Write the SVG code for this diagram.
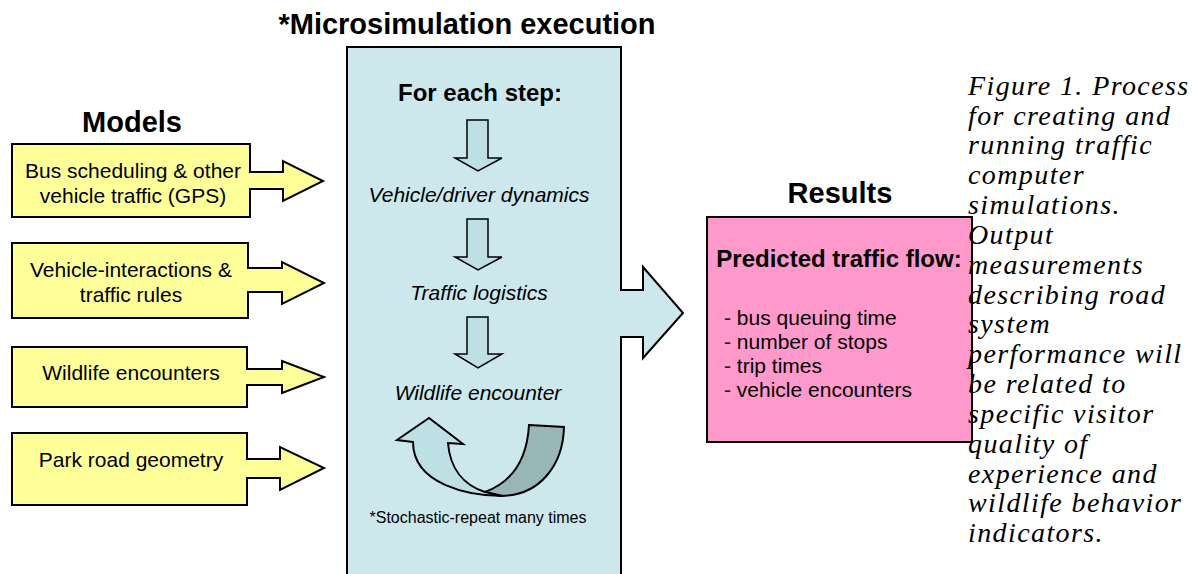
<svg xmlns="http://www.w3.org/2000/svg" width="1197" height="574" viewBox="0 0 1197 574">
<style>
.bg{fill:#ffffff}
.shape{stroke:#000;stroke-width:2;stroke-linejoin:miter}
.yel{fill:#ffff99}
.blue{fill:#cde8ec}
.pink{fill:#ff99cc}
.darr{fill:#bde0e4;stroke:#000;stroke-width:1.5}
.dark{fill:#98b5b7;stroke:#000;stroke-width:2}
.light{fill:#bde0e4;stroke:#000;stroke-width:2}
.sans{font-family:"Liberation Sans",Arial,sans-serif;fill:#000}
.h1{font-size:29px;font-weight:bold}
.h2{font-size:24px;font-weight:bold}
.t21{font-size:21px}
.it{font-style:italic}
.small{font-size:16px}
.cap{font-family:"Liberation Serif","Times New Roman",serif;font-style:italic;font-size:28px;letter-spacing:1.4px;fill:#000}
</style>
<rect class="bg" x="0" y="0" width="1197" height="574"/>

<g id="title-micro"><text class="sans h1" x="467" y="34" text-anchor="middle">*Microsimulation execution</text></g>
<g id="title-models"><text class="sans h1" x="132" y="132" text-anchor="middle">Models</text></g>
<g id="title-results"><text class="sans h1" x="840" y="203" text-anchor="middle">Results</text></g>

<g id="connectors">
</g>

<g id="model-bus">
<path class="shape yel" d="M12,144 L250,144 L250,172 L283,172 L283,161 L323,181 L283,201 L283,189 L250,189 L250,217 L12,217 Z"/>
<text class="sans t21" x="133" y="178" text-anchor="middle">Bus scheduling &amp; other</text>
<text class="sans t21" x="133" y="203" text-anchor="middle">vehicle traffic (GPS)</text>
</g>

<g id="model-interactions">
<path class="shape yel" d="M12,243 L248,243 L248,268 L282,268 L282,262 L324,283 L282,304 L282,292 L248,292 L248,318 L12,318 Z"/>
<text class="sans t21" x="131" y="277" text-anchor="middle">Vehicle-interactions &amp;</text>
<text class="sans t21" x="131" y="302" text-anchor="middle">traffic rules</text>
</g>

<g id="model-wildlife">
<path class="shape yel" d="M12,347 L247,347 L247,369 L282,369 L282,361 L324,377 L282,393 L282,385 L247,385 L247,407 L12,407 Z"/>
<text class="sans t21" x="131" y="380" text-anchor="middle">Wildlife encounters</text>
</g>

<g id="model-geometry">
<path class="shape yel" d="M12,433 L247,433 L247,459 L280,459 L280,447 L324,468 L280,490 L280,478 L247,478 L247,505 L12,505 Z"/>
<text class="sans t21" x="131" y="467" text-anchor="middle">Park road geometry</text>
</g>

<g id="microsimulation">
<path class="shape blue" d="M347,47 L621,47 L621,290 L643,290 L643,267 L683,313 L643,358 L643,337 L621,337 L621,590 L347,590 Z"/>
<text class="sans h2" x="480" y="101" text-anchor="middle">For each step:</text>
<path class="darr" d="M467,120 L488,120 L488,158 L502,158 L478,171 L455,158 L467,158 Z"/>
<text class="sans t21 it" x="479" y="202" text-anchor="middle">Vehicle/driver dynamics</text>
<path class="darr" d="M467,219 L488,219 L488,257 L502,257 L478,270 L455,257 L467,257 Z"/>
<text class="sans t21 it" x="479" y="300" text-anchor="middle">Traffic logistics</text>
<path class="darr" d="M467,317 L488,317 L488,354 L502,354 L478,368 L455,354 L467,354 Z"/>
<text class="sans t21 it" x="478" y="400" text-anchor="middle">Wildlife encounter</text>
<path class="dark" d="M529,425 L564,427 C563,465 540,496 500,496 L485,492 C512,482 527,460 529,425 Z"/>
<path class="light" d="M413,442 L397,440 L429,418 L463,444 L448,443 C450,468 463,485 485,492 L503,496 C470,496 413,485 413,442 Z"/>
<text class="sans small" x="478" y="523" text-anchor="middle">*Stochastic-repeat many times</text>
</g>

<g id="results">
<rect class="shape pink" x="707" y="217" width="265" height="225"/>
<text class="sans h2" x="839" y="267" text-anchor="middle">Predicted traffic flow:</text>
<text class="sans t21" x="724" y="325">- bus queuing time</text>
<text class="sans t21" x="724" y="349">- number of stops</text>
<text class="sans t21" x="724" y="373">- trip times</text>
<text class="sans t21" x="724" y="397">- vehicle encounters</text>
</g>

<g id="caption">
<text class="cap" x="968" y="95">Figure 1. Process</text>
<text class="cap" x="968" y="125">for creating and</text>
<text class="cap" x="968" y="154">running traffic</text>
<text class="cap" x="968" y="184">computer</text>
<text class="cap" x="968" y="214">simulations.</text>
<text class="cap" x="968" y="244">Output</text>
<text class="cap" x="968" y="274">measurements</text>
<text class="cap" x="968" y="304">describing road</text>
<text class="cap" x="968" y="333">system</text>
<text class="cap" x="968" y="363">performance will</text>
<text class="cap" x="968" y="393">be related to</text>
<text class="cap" x="968" y="423">specific visitor</text>
<text class="cap" x="968" y="453">quality of</text>
<text class="cap" x="968" y="483">experience and</text>
<text class="cap" x="968" y="512">wildlife behavior</text>
<text class="cap" x="968" y="542">indicators.</text>
</g>
</svg>
